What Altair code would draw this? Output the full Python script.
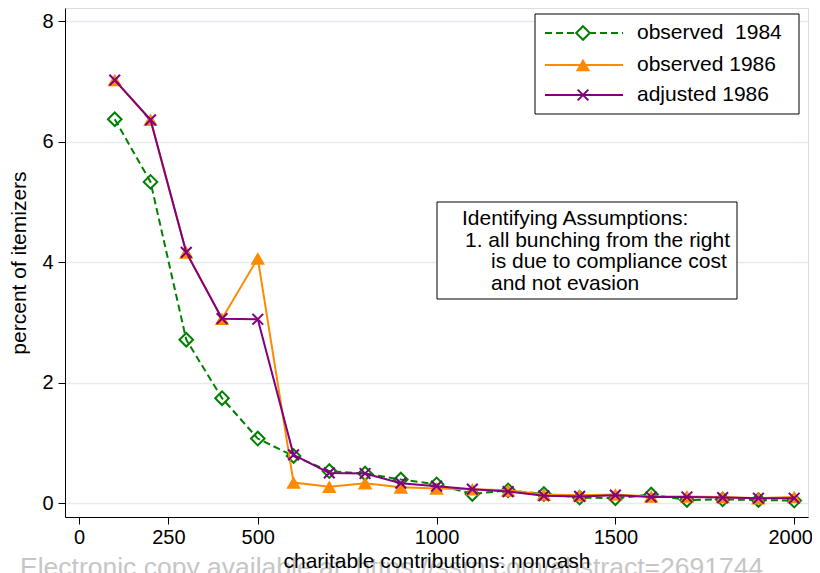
import altair as alt
import pandas as pd

# ---------------- data ----------------
x_vals = [100, 200, 300, 400, 500, 600, 700, 800, 900, 1000,
          1100, 1200, 1300, 1400, 1500, 1600, 1700, 1800, 1900, 2000]
obs_1984 = [6.37, 5.33, 2.71, 1.74, 1.07, 0.78, 0.53, 0.49, 0.39, 0.31,
            0.15, 0.21, 0.15, 0.09, 0.08, 0.14, 0.05, 0.06, 0.05, 0.04]
obs_1986 = [7.02, 6.36, 4.16, 3.06, 4.06, 0.34, 0.27, 0.33, 0.26, 0.24,
            0.23, 0.21, 0.14, 0.13, 0.14, 0.11, 0.11, 0.10, 0.08, 0.10]
adj_1986 = [7.02, 6.36, 4.16, 3.06, 3.05, 0.80, 0.50, 0.49, 0.33, 0.28,
            0.23, 0.19, 0.12, 0.11, 0.13, 0.10, 0.10, 0.09, 0.08, 0.08]

series_names = ["observed\u00a0 1984", "observed 1986", "adjusted 1986"]
x_ticks = [0, 250, 500, 1000, 1500, 2000]
y_ticks = [0, 2, 4, 6, 8]
x_title = "charitable contributions: noncash"
y_title = "percent of itemizers"
note_lines = ["Identifying Assumptions:",
              "1. all bunching from the right",
              "is due to compliance cost",
              "and not evasion"]
watermark = "Electronic copy available at: https://ssrn.com/abstract=2691744"

# ---------------- styles ----------------
FONT = "Liberation Sans"
GREEN = "#008000"
ORANGE = "#ff8a00"
PURPLE = "#800080"
XSHAPE = "M-1,-1L1,1M-1,1L1,-1"
DASH = [7, 4]

W, H = 743, 509

xscale = alt.Scale(domain=[-39.1, 2038.6], nice=False, zero=False)
yscale = alt.Scale(domain=[-0.232, 8.216], nice=False, zero=False)

xaxis = alt.Axis(values=x_ticks, format="d", grid=False, title=x_title, labelFont=FONT,
                 titleFont=FONT, labelFontSize=20, titleFontSize=21,
                 titleFontWeight="normal", labelColor="black", titleColor="black",
                 domainColor="black", tickColor="black", tickSize=7,
                 labelPadding=3, titlePadding=3, labelFlush=False, zindex=1,
                 labelOffset=alt.expr("datum.value == 2000 ? -4 : 0"))
yaxis = alt.Axis(values=y_ticks, format="d", grid=True, gridColor="#e3ecee", gridWidth=1.5,
                 title=y_title, labelFont=FONT, titleFont=FONT, labelFontSize=20,
                 titleFontSize=21, titleFontWeight="normal", labelColor="black",
                 titleColor="black", domainColor="black", tickColor="black",
                 tickSize=7, labelPadding=5, titlePadding=12, labelFlush=False)


def series_layers(vals, color, dash, shape, filled, size):
    df = pd.DataFrame({"x": x_vals, "y": vals})
    enc = dict(x=alt.X("x:Q", scale=xscale, axis=xaxis),
               y=alt.Y("y:Q", scale=yscale, axis=yaxis))
    line_kw = dict(color=color, strokeWidth=2)
    if dash:
        line_kw["strokeDash"] = dash
    line = alt.Chart(df).mark_line(**line_kw).encode(**enc)
    if filled:
        pt = alt.Chart(df).mark_point(shape=shape, filled=True, fill=color,
                                      size=size, opacity=1, strokeWidth=0).encode(**enc)
    else:
        pt = alt.Chart(df).mark_point(shape=shape, filled=False, stroke=color,
                                      size=size, opacity=1, strokeWidth=2).encode(**enc)
    return [line, pt]


layers = []
layers += series_layers(obs_1984, GREEN, DASH, "diamond", False, 185)
layers += series_layers(obs_1986, ORANGE, None, "triangle-up", True, 210)
layers += series_layers(adj_1986, PURPLE, None, XSHAPE, False, 115)

one = pd.DataFrame({"k": [0]})

# legend box
layers.append(alt.Chart(one).mark_rect(fill="white", stroke="black", strokeWidth=1).encode(
    x=alt.value(470), x2=alt.value(734), y=alt.value(6), y2=alt.value(106)))
row_y = [25, 57, 87]
styles = [(GREEN, DASH, "diamond", False, 185),
          (ORANGE, None, "triangle-up", True, 210),
          (PURPLE, None, XSHAPE, False, 115)]
for name, ry, (c, d, s, f, sz) in zip(series_names, row_y, styles):
    rk = dict(color=c, strokeWidth=2)
    if d:
        rk["strokeDash"] = d
    layers.append(alt.Chart(one).mark_rule(**rk).encode(
        x=alt.value(480), x2=alt.value(558), y=alt.value(ry)))
    if f:
        layers.append(alt.Chart(one).mark_point(shape=s, filled=True, fill=c, size=sz,
                                                opacity=1, strokeWidth=0).encode(
            x=alt.value(518), y=alt.value(ry)))
    else:
        layers.append(alt.Chart(one).mark_point(shape=s, filled=False, stroke=c, fill="white",
                                                size=sz, opacity=1, strokeWidth=2).encode(
            x=alt.value(518), y=alt.value(ry)))
    layers.append(alt.Chart(pd.DataFrame({"t": [name]})).mark_text(
        font=FONT, fontSize=21, align="left", baseline="middle", color="black").encode(
        x=alt.value(572), y=alt.value(ry), text="t:N"))

# annotation box
layers.append(alt.Chart(one).mark_rect(fill="white", stroke="black", strokeWidth=1).encode(
    x=alt.value(372), x2=alt.value(672), y=alt.value(194), y2=alt.value(291)))
note_x = [397, 400, 426, 426]
note_y = [217, 238.5, 260, 281.5]
for txt, nx, ny in zip(note_lines, note_x, note_y):
    layers.append(alt.Chart(pd.DataFrame({"t": [txt]})).mark_text(
        font=FONT, fontSize=21, align="left", baseline="alphabetic", color="black").encode(
        x=alt.value(nx), y=alt.value(ny), text="t:N"))

# watermark
layers.append(alt.Chart(pd.DataFrame({"t": [watermark]})).mark_text(
    font=FONT, fontSize=26.5, align="left", baseline="alphabetic", color="#c6c6c6").encode(
    x=alt.value(-45), y=alt.value(568), text="t:N"))

chart = alt.layer(*layers).properties(
    width=W, height=H,
    autosize=alt.AutoSizeParams(type="none"),
    padding={"left": 57, "top": 0, "right": 4, "bottom": 56},
).configure_view(stroke=None).configure(background="white")

chart.save("out.html", embed_options={"renderer": "svg", "actions": False})
